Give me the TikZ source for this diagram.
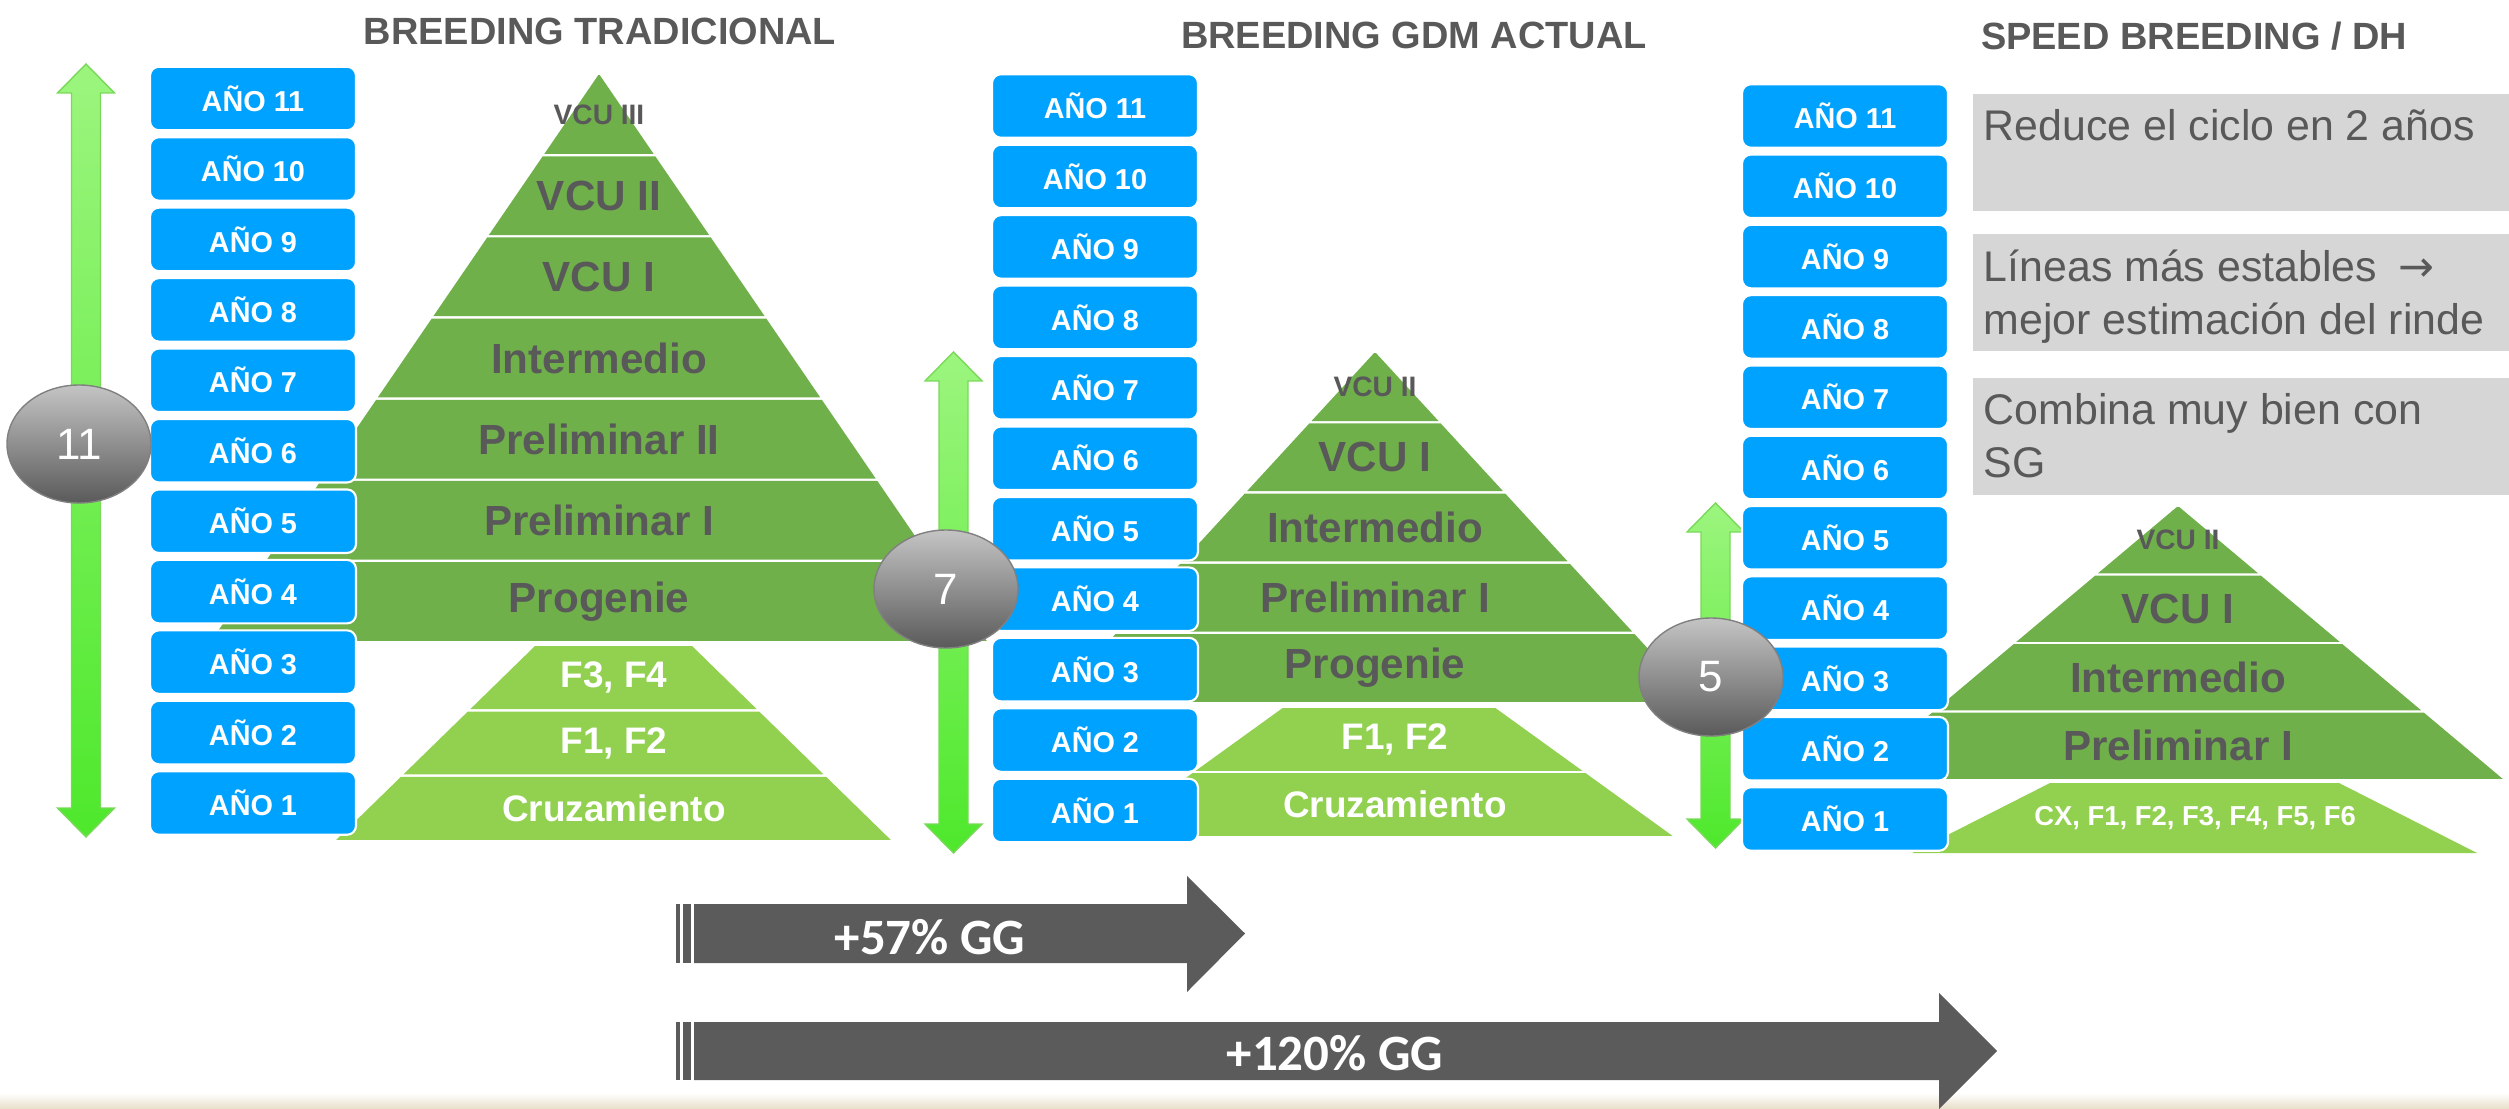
\documentclass[tikz,border=0pt]{standalone}
\usepackage{fontspec}
\setmainfont{Liberation Sans}
\newfontfamily\flechafont{DejaVu Sans}
\newfontfamily\gainfont{Carlito}
\usepackage{tikz}
\usetikzlibrary{shapes.geometric, positioning}

\definecolor{anioblue}{HTML}{00A2FF}
\definecolor{pirdark}{HTML}{70B04B}
\definecolor{pirlight}{HTML}{92D050}
\definecolor{txtgray}{HTML}{595959}
\definecolor{boxgray}{HTML}{D6D6D6}
\definecolor{arrowgray}{HTML}{5B5B5B}
\definecolor{arrtop}{HTML}{9CF57E}
\definecolor{arrbot}{HTML}{4EE82C}
\definecolor{arredge}{HTML}{7AD85A}
\definecolor{ciclotop}{HTML}{C4C4C4}
\definecolor{ciclobot}{HTML}{5A5A5A}
\definecolor{beige}{HTML}{E8DEC8}

\begin{document}
\begin{tikzpicture}[
  anio/.style={rectangle, rounded corners=0.09cm, fill=anioblue, draw=white, line width=0.6pt,
    minimum width=2.06cm, minimum height=0.635cm, inner sep=0pt, text=white,
    font=\bfseries\fontsize{8.2}{9}\selectfont},
  titulo/.style={text=txtgray, font=\bfseries\fontsize{10.8}{12}\selectfont},
  pirbig/.style={text=txtgray, inner sep=0pt, font=\bfseries\fontsize{12}{13}\selectfont},
  pirsmall/.style={text=txtgray, inner sep=0pt, font=\bfseries\fontsize{8}{9}\selectfont},
  pirwhite/.style={text=white, inner sep=0pt, font=\bfseries\fontsize{10.5}{12}\selectfont},
  ciclo/.style={ellipse, minimum width=1.44cm, minimum height=1.18cm, inner sep=0pt,
    top color=ciclotop, bottom color=ciclobot, draw=gray, line width=0.4pt,
    text=white, font=\fontsize{12.5}{13}\selectfont},
  gris/.style={fill=boxgray, minimum width=5.37cm, minimum height=1.17cm, inner sep=0pt, anchor=north west},
  gristxt/.style={text=txtgray, align=left, inner sep=0pt, font=\fontsize{12.2}{15.1}\selectfont},
  verde/.style={top color=arrtop, bottom color=arrbot, draw=arredge, line width=0.4pt},
  flecha/.style={fill=arrowgray},
  gain/.style={text=white, font=\gainfont\bfseries\fontsize{14.5}{15}\selectfont}
]
\useasboundingbox (0,0) rectangle (25.09,-11.09);

% fondo inferior
\shade[top color=white, bottom color=beige] (0,-10.93) rectangle (25.09,-11.09);

% Titulos
\node[titulo] (tit1) at (6.00,-0.31) {BREEDING TRADICIONAL};
\node[titulo] (tit2) at (14.14,-0.35) {BREEDING GDM ACTUAL};
\node[titulo] (tit3) at (21.94,-0.36) {SPEED BREEDING / DH};

% Piramide tradicional
\foreach \lbl/\est [count=\j from 0] in {VCU III/pirsmall, VCU II/pirbig, VCU I/pirbig, Intermedio/pirbig, Preliminar II/pirbig, Preliminar I/pirbig, Progenie/pirbig}{
  \pgfmathsetmacro\yt{0.74+\j*0.8114+0.012}
  \pgfmathsetmacro\yb{0.74+(\j+1)*0.8114-0.012}
  \pgfmathsetmacro\wt{(\yt-0.74)*0.684}
  \pgfmathsetmacro\wb{(\yb-0.74)*0.684}
  \fill[pirdark] (5.99-\wt,-\yt) -- (5.99+\wt,-\yt) -- (5.99+\wb,-\yb) -- (5.99-\wb,-\yb) -- cycle;
  \node[\est] (pa\j) at (5.99,{-0.74-(\j+0.5)*0.8114}) {\lbl};
}
\foreach \lbl [count=\j from 0] in {{F3, F4}, {F1, F2}, Cruzamiento}{
  \pgfmathsetmacro\yt{6.45+\j*0.6533+0.012}
  \pgfmathsetmacro\yb{6.45+(\j+1)*0.6533-0.012}
  \pgfmathsetmacro\wt{0.775+(\yt-6.45)*1.025}
  \pgfmathsetmacro\wb{0.775+(\yb-6.45)*1.025}
  \fill[pirlight] (6.135-\wt,-\yt) -- (6.135+\wt,-\yt) -- (6.135+\wb,-\yb) -- (6.135-\wb,-\yb) -- cycle;
  \node[pirwhite] (pb\j) at (6.14,{-6.45-(\j+0.5)*0.6533}) {\lbl};
}

% Piramide GDM actual
\foreach \lbl/\est [count=\j from 0] in {VCU II/pirsmall, VCU I/pirbig, Intermedio/pirbig, Preliminar I/pirbig, Progenie/pirbig}{
  \pgfmathsetmacro\yt{3.52+\j*0.702+0.012}
  \pgfmathsetmacro\yb{3.52+(\j+1)*0.702-0.012}
  \pgfmathsetmacro\wt{(\yt-3.52)*0.92}
  \pgfmathsetmacro\wb{(\yb-3.52)*0.92}
  \fill[pirdark] (13.75-\wt,-\yt) -- (13.75+\wt,-\yt) -- (13.75+\wb,-\yb) -- (13.75-\wb,-\yb) -- cycle;
  \node[\est] (pc\j) at (13.75,{-3.52-(\j+0.5)*0.702}) {\lbl};
}
\foreach \lbl [count=\j from 0] in {{F1, F2}, Cruzamiento}{
  \pgfmathsetmacro\yt{7.07+\j*0.65+0.012}
  \pgfmathsetmacro\yb{7.07+(\j+1)*0.65-0.012}
  \pgfmathsetmacro\wt{1.05+(\yt-7.07)*1.385}
  \pgfmathsetmacro\wb{1.05+(\yb-7.07)*1.385}
  \fill[pirlight] (13.89-\wt,-\yt) -- (13.89+\wt,-\yt) -- (13.89+\wb,-\yb) -- (13.89-\wb,-\yb) -- cycle;
  \node[pirwhite] (pd\j) at (13.95,{-7.07-(\j+0.5)*0.65}) {\lbl};
}

% Piramide speed breeding
\foreach \lbl/\est [count=\j from 0] in {VCU II/pirsmall, VCU I/pirbig, Intermedio/pirbig, Preliminar I/pirbig}{
  \pgfmathsetmacro\yt{5.06+\j*0.685+0.012}
  \pgfmathsetmacro\yb{5.06+(\j+1)*0.685-0.012}
  \pgfmathsetmacro\wt{(\yt-5.06)*1.19}
  \pgfmathsetmacro\wb{(\yb-5.06)*1.19}
  \fill[pirdark] (21.78-\wt,-\yt) -- (21.78+\wt,-\yt) -- (21.78+\wb,-\yb) -- (21.78-\wb,-\yb) -- cycle;
  \node[\est] (pe\j) at (21.78,{-5.06-(\j+0.5)*0.685}) {\lbl};
}
\fill[pirlight] (20.50,-7.83) -- (23.39,-7.83) -- (24.77,-8.53) -- (19.12,-8.53) -- cycle;
\node[pirwhite, font=\bfseries\fontsize{7.8}{9}\selectfont] (pf0) at (21.95,-8.18) {CX, F1, F2, F3, F4, F5, F6};

% Flechas de tiempo
\foreach \x/\ya/\yb in {0.86/0.64/8.37, 9.535/3.52/8.53, 17.155/5.03/8.48}
  \draw[verde] (\x,-\ya) -- ++(0.285,-0.29) -- ++(-0.14,0) -- (\x+0.145,-\yb+0.29) -- ++(0.14,0)
    -- (\x,-\yb) -- ++(-0.285,0.29) -- ++(0.14,0) -- (\x-0.145,-\ya-0.29) -- ++(-0.14,0) -- cycle;

% Anios
\foreach \i in {1,...,11}{
  \node[anio] (a\i) at (2.53,{-8.03+(\i-1)*0.7045}) {AÑO \i};
  \node[anio] (b\i) at (10.95,{-8.105+(\i-1)*0.7045}) {AÑO \i};
  \node[anio] (c\i) at (18.45,{-8.19+(\i-1)*0.703}) {AÑO \i};
}

% Duracion del ciclo
\node[ciclo] (c11) at (0.79,-4.44) {11};
\node[ciclo] (c7) at (9.46,-5.89) {7};
\node[ciclo] (c5) at (17.11,-6.77) {5};

% Ventajas
\node[gris] (g1) at (19.72,-0.93) {};
\node[gris] (g2) at (19.72,-2.33) {};
\node[gris] (g3) at (19.72,-3.77) {};
\node[gristxt, below right=0.16cm and 0.11cm of g1.north west] (v1) {Reduce el ciclo en 2 años};
\node[gristxt, below right=0.16cm and 0.11cm of g2.north west] (v2) {Líneas más estables\enspace{\flechafont →}\\mejor estimación del rinde};
\node[gristxt, below right=0.16cm and 0.11cm of g3.north west] (v3) {Combina muy bien con\\SG};

% Ganancia genetica
\fill[flecha] (6.76,-9.04) rectangle (6.80,-9.63);
\fill[flecha] (6.83,-9.04) rectangle (6.91,-9.63);
\fill[flecha] (6.94,-9.04) -- (11.87,-9.04) -- (11.87,-8.76) -- (12.45,-9.335) -- (11.87,-9.92) -- (11.87,-9.63) -- (6.94,-9.63) -- cycle;
\node[gain] (gg57) at (9.30,-9.37) {+57\% GG};
\fill[flecha] (6.76,-10.22) rectangle (6.80,-10.80);
\fill[flecha] (6.83,-10.22) rectangle (6.91,-10.80);
\fill[flecha] (6.94,-10.22) -- (19.39,-10.22) -- (19.39,-9.93) -- (19.97,-10.51) -- (19.39,-11.09) -- (19.39,-10.80) -- (6.94,-10.80) -- cycle;
\node[gain] (gg120) at (13.35,-10.53) {+120\% GG};
\end{tikzpicture}
\end{document}
